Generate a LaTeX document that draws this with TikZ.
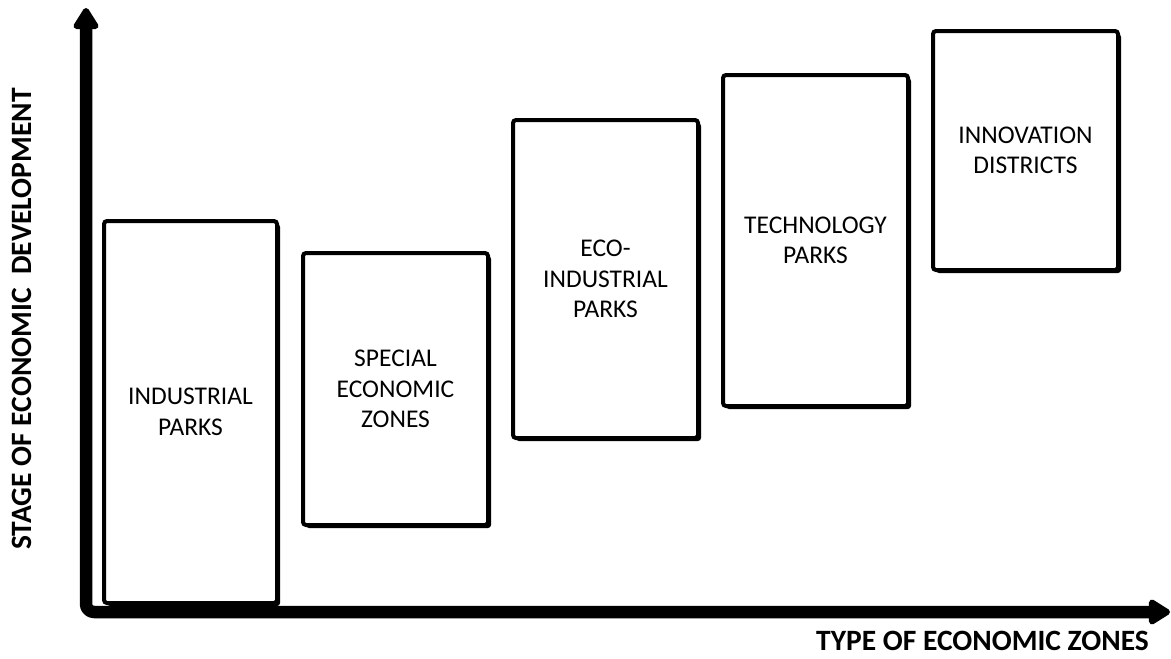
\documentclass[tikz,border=0pt]{standalone}
\usepackage{fontspec}
\setmainfont{Carlito}
\usetikzlibrary{arrows.meta,shadows}
\begin{document}
\begin{tikzpicture}[x=1pt,y=-1pt,
  zonebox/.style={draw=black, line width=4pt, fill=white, rounded corners=3pt,
    inner sep=0pt, align=center, font=\fontsize{25.5}{30.5}\selectfont,
    drop shadow={shadow xshift=3pt, shadow yshift=-3pt, opacity=1, fill=black}},
  axis/.style={line width=12.5pt, line join=round, rounded corners=8pt,
    {Triangle[length=24pt,width=28pt,round]}-{Triangle[length=24pt,width=28pt,round]}},
  axislabel/.style={font=\fontsize{29.5}{34}\selectfont\bfseries, inner sep=0pt}]
\useasboundingbox (0,0) rectangle (1171,659);
\coordinate (ytip) at (86,8);
\coordinate (xtip) at (1170,612);
\coordinate (org) at (86,612);
\node[zonebox, minimum width=173pt, minimum height=382pt] (b1) at (190.5,412) {INDUSTRIAL\\PARKS};
\node[zonebox, minimum width=185pt, minimum height=272pt] (b2) at (395.5,389) {SPECIAL\\ECONOMIC\\ZONES};
\node[zonebox, minimum width=185pt, minimum height=318pt] (b3) at (605.5,279) {ECO-\\INDUSTRIAL\\PARKS};
\node[zonebox, minimum width=185pt, minimum height=331pt] (b4) at (815.5,240.5) {TECHNOLOGY\\PARKS};
\node[zonebox, minimum width=185pt, minimum height=239pt] (b5) at (1025.5,150.5) {INNOVATION\\DISTRICTS};
\draw[axis] (ytip) -- (org) -- (xtip);
\node[axislabel, anchor=east] (xl) at (1149,641) {TYPE OF ECONOMIC ZONES};
\node[axislabel, rotate=90] (yl) at (22,319) {STAGE OF ECONOMIC\ \ DEVELOPMENT};
\end{tikzpicture}
\end{document}
